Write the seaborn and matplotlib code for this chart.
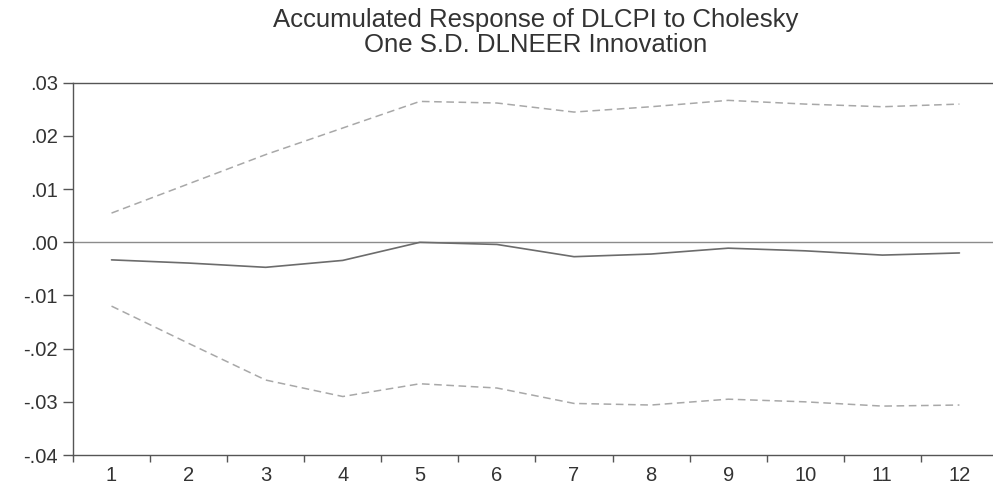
import matplotlib
matplotlib.use("Agg")
import matplotlib.pyplot as plt
import seaborn as sns
from matplotlib.ticker import FixedLocator, FuncFormatter

# Accumulated impulse response over 12 periods with +/- 2 S.E. bands
periods = list(range(1, 13))
response = [-0.0033, -0.0039, -0.0047, -0.0034, 0.0000, -0.0004,
            -0.0027, -0.0022, -0.0011, -0.0016, -0.0024, -0.0020]
upper_band = [0.0055, 0.0110, 0.0165, 0.0215, 0.0265, 0.0262,
              0.0245, 0.0255, 0.0267, 0.0260, 0.0255, 0.0260]
lower_band = [-0.0120, -0.0190, -0.0259, -0.0290, -0.0266, -0.0274,
              -0.0303, -0.0306, -0.0295, -0.0300, -0.0308, -0.0306]
y_ticks = [-0.04, -0.03, -0.02, -0.01, 0.00, 0.01, 0.02, 0.03]
title_text = "Accumulated Response of DLCPI to Cholesky\nOne S.D. DLNEER Innovation"

sns.set_theme(style="white")
plt.rcParams["font.family"] = ["Liberation Sans", "DejaVu Sans"]

fig = plt.figure(figsize=(9.93, 4.84), dpi=100)
fig.patch.set_facecolor("white")
ax = fig.add_axes([0.0735, 0.0599, 0.9315, 0.769])

ax.axhline(0, color="#8c8c8c", lw=1.0, zorder=1)
sns.lineplot(x=periods, y=upper_band, ax=ax, color="#a8a8a8", lw=1.1,
             linestyle=(0, (5, 3)), zorder=2)
sns.lineplot(x=periods, y=lower_band, ax=ax, color="#a8a8a8", lw=1.1,
             linestyle=(0, (5, 3)), zorder=2)
sns.lineplot(x=periods, y=response, ax=ax, color="#6c6c6c", lw=1.2, zorder=3)

ax.set_xlim(0.5, 12.5)
ax.set_ylim(-0.04, 0.03)

# integer labels without tick marks; tick marks sit between periods
ax.xaxis.set_major_locator(FixedLocator(periods))
ax.xaxis.set_minor_locator(FixedLocator([p - 0.5 for p in periods] + [12.5]))
ax.tick_params(axis="x", which="major", length=0, pad=8,
               labelsize=14.5, labelcolor="#333333")
ax.tick_params(axis="x", which="minor", length=5, width=1,
               color="#555555", direction="out", bottom=True)

ax.yaxis.set_major_locator(FixedLocator(y_ticks))
ax.yaxis.set_major_formatter(
    FuncFormatter(lambda v, _: f"{v:.2f}".replace("0.", ".", 1)))
ax.tick_params(axis="y", which="major", length=7, width=1, color="#555555",
               direction="out", left=True, pad=4,
               labelsize=14.5, labelcolor="#333333")

for side in ("left", "bottom", "top"):
    ax.spines[side].set_color("#555555")
    ax.spines[side].set_linewidth(1.0)
ax.spines["right"].set_visible(False)

ax.set_xlabel("")
ax.set_ylabel("")
ax.set_title(title_text, fontsize=18.5, color="#333333", pad=22,
             linespacing=1.05)

fig.savefig("out.png", dpi=100, facecolor="white")
